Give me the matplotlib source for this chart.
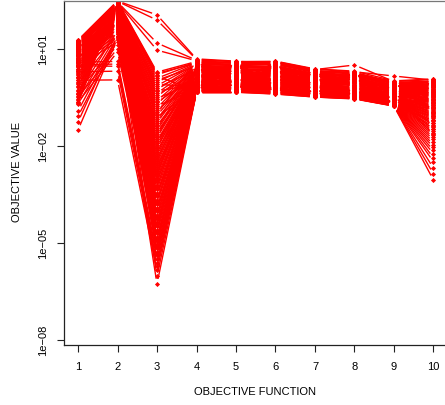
import numpy as np
import matplotlib
matplotlib.use('Agg')
import matplotlib.pyplot as plt
from matplotlib.collections import LineCollection

plt.rcParams['font.family'] = ['Liberation Sans', 'DejaVu Sans']

# log10 of the objective value, one list per objective, same run order in each
obj1 = [1.25, 1.22, 1.24, 1.20,
        1.26, 1.18, 1.23, 1.15, 1.21, 1.12, 1.19, 1.08, 1.16, 1.04,
        1.13, 1.00, 1.10, 0.96, 1.06, 0.92, 1.02, 0.88, 0.98, 0.84,
        0.94, 0.80, 0.90, 0.76, 0.86, 0.70, 0.82, 0.64, 0.78, 0.58,
        0.72, 0.52, 0.66, 0.45, 0.60, 0.38, 0.54, 0.30, 0.47, 0.22,
        -0.30, -0.40, -0.50, -0.58, -0.66, -0.72, -0.93, -1.09, -1.27, -1.52,
        0.58, 0.50, 0.47, 0.28, 0.02, 0.10, -0.10,
        -0.70, -0.64, -0.56, -0.47, -0.42, -0.36, -0.28, -0.20, -0.15, -0.08,
        -0.02, 0.04, 0.12, 0.18, 0.24, 0.31, 0.36, 0.43, 0.49, 0.55,
        0.61, 0.67, 0.73, 0.79, 0.85, 0.91, 0.97, 1.03, 1.09, 1.14,
        1.17, 1.11, 1.05, 0.99, 0.93, 0.81, 0.69, 0.57, 0.33, 0.11]
obj2 = [2.47, 2.46, 2.44, 2.42,
        2.47, 2.40, 2.45, 2.35, 2.30, 2.42, 2.25, 2.38, 2.20, 2.33,
        2.15, 2.28, 2.10, 2.47, 2.05, 2.22, 2.00, 2.18, 1.95, 2.12,
        1.90, 2.08, 1.85, 2.03, 1.80, 1.98, 1.75, 2.44, 1.70, 1.93,
        1.60, 1.88, 1.50, 1.83, 1.40, 1.78, 1.30, 1.72, 1.20, 1.65,
        1.10, 1.55, 1.00, 1.45, 0.90, 1.35, 1.35, 1.25, 1.40, 1.32,
        0.60, 0.52, 0.45, 0.30, 0.03, 1.85, 1.45,
        2.46, 2.43, 2.41, 2.39, 2.37, 2.34, 2.31, 2.29, 2.26, 2.24,
        2.21, 2.19, 2.16, 2.14, 2.11, 2.09, 2.06, 2.04, 2.01, 1.99,
        1.96, 1.94, 1.91, 1.89, 1.86, 1.84, 1.81, 1.79, 1.76, 1.74,
        1.71, 1.68, 1.66, 1.63, 1.61, 1.58, 1.56, 1.53, 1.51, 1.48]
obj3 = [2.04, 1.88, 1.17, 0.95,
        0.27, 0.19, 0.08, -0.04, -0.15, -0.27, -0.38, -0.49, -0.61, -0.72,
        -0.84, -0.95, -1.07, -1.18, -1.29, -1.41, -1.52, -1.64, -1.75, -1.86,
        -1.98, -2.09, -2.21, -2.32, -2.43, -2.55, -2.66, -2.78, -2.89, -3.00,
        -3.12, -3.23, -3.35, -3.46, -3.57, -3.69, -3.80, -3.92, -4.03, -4.14,
        -4.26, -4.37, -4.49, -4.60, -4.71, -4.83, -4.94, -5.06, -5.17, -5.28,
        -5.40, -5.51, -5.63, -5.74, -5.86, -6.04, -6.28,
        0.23, 0.14, 0.02, -0.10, -0.21, -0.32, -0.43, -0.55, -0.66, -0.78,
        -0.90, -1.01, -1.13, -1.24, -1.35, -1.47, -1.58, -1.70, -1.81, -1.92,
        -2.04, -2.15, -2.27, -2.38, -2.49, -2.61, -2.72, -2.84, -2.95, -3.06,
        -3.29, -3.52, -3.75, -3.97, -4.20, -4.43, -4.66, -4.88, -5.11, -5.34]
obj4 = [0.68, 0.66, 0.64, 0.62, 0.60, 0.58, 0.56, 0.54, 0.52, 0.50,
        0.48, 0.46, 0.44, 0.42, 0.40, 0.38, 0.36, 0.34, 0.33, 0.31,
        0.29, 0.27, 0.25, 0.23, 0.21, 0.19, 0.17, 0.15, 0.13, 0.11,
        0.09, 0.07, 0.05, 0.03, 0.01, -0.01, -0.03, -0.05, -0.07, -0.09,
        -0.11, -0.13, -0.15, -0.17, -0.19, -0.21, -0.23, -0.25, -0.26, -0.27,
        -0.28, -0.29, -0.30, -0.31, -0.32, -0.33, -0.33, -0.34, -0.34, -0.35, -0.35,
        0.55, -0.30, 0.45, -0.20, 0.35, -0.10, 0.25, 0.00, 0.15, -0.25,
        0.05, 0.60, -0.15, 0.50, -0.05, 0.40, 0.10, 0.30, -0.32, 0.20,
        0.12, -0.18, 0.42, -0.08, 0.32, -0.28, 0.22, 0.02, 0.52, -0.12,
        0.37, -0.02, 0.27, -0.22, 0.17, 0.07, 0.47, -0.34, 0.57, -0.16]
obj5 = [0.61, 0.59, 0.60, 0.56, 0.54, 0.55, 0.51, 0.49, 0.47, 0.48,
        0.44, 0.42, 0.40, 0.41, 0.37, 0.35, 0.33, 0.31, 0.32, 0.28,
        0.26, 0.24, 0.25, 0.21, 0.19, 0.17, 0.15, 0.16, 0.12, 0.10,
        0.08, 0.06, 0.07, 0.03, 0.01, -0.01, -0.03, -0.02, -0.06, -0.08,
        -0.10, -0.12, -0.11, -0.15, -0.17, -0.19, -0.20, -0.22, -0.24, -0.25,
        -0.27, -0.28, -0.29, -0.30, -0.31, -0.32, -0.33, -0.33, -0.34, -0.35, -0.35,
        0.30, 0.10, -0.20, 0.50, 0.00, 0.40, -0.30, 0.20, -0.10, 0.55,
        0.25, -0.25, 0.45, 0.05, 0.35, -0.15, 0.15, -0.05, 0.58, -0.33,
        0.28, 0.08, -0.22, 0.48, -0.02, 0.38, -0.28, 0.18, -0.12, 0.53,
        0.23, -0.27, 0.43, 0.03, 0.33, -0.17, 0.13, -0.07, 0.56, -0.31]
obj6 = [0.61, 0.60, 0.57, 0.58, 0.54, 0.52, 0.50, 0.51, 0.47, 0.45,
        0.43, 0.41, 0.42, 0.38, 0.36, 0.34, 0.32, 0.33, 0.29, 0.27,
        0.25, 0.23, 0.21, 0.22, 0.18, 0.16, 0.14, 0.12, 0.13, 0.09,
        0.07, 0.05, 0.03, 0.04, 0.00, -0.02, -0.04, -0.06, -0.05, -0.09,
        -0.11, -0.13, -0.15, -0.14, -0.18, -0.20, -0.22, -0.24, -0.23, -0.27,
        -0.29, -0.31, -0.32, -0.33, -0.34, -0.35, -0.36, -0.37, -0.38, -0.40, -0.41,
        -0.10, 0.20, 0.45, -0.30, 0.30, -0.20, 0.55, 0.05, 0.35, -0.38,
        0.15, 0.50, -0.05, 0.25, -0.25, 0.40, 0.00, 0.58, -0.15, 0.10,
        -0.12, 0.22, 0.47, -0.32, 0.32, -0.22, 0.52, 0.07, 0.37, -0.35,
        0.17, 0.48, -0.07, 0.27, -0.27, 0.42, 0.02, 0.56, -0.17, 0.12]
obj7 = [0.37, 0.35, 0.36, 0.32, 0.30, 0.28, 0.29, 0.25, 0.23, 0.21,
        0.19, 0.20, 0.16, 0.14, 0.12, 0.10, 0.11, 0.07, 0.05, 0.03,
        0.01, 0.02, -0.02, -0.04, -0.06, -0.08, -0.07, -0.11, -0.13, -0.15,
        -0.17, -0.16, -0.20, -0.22, -0.24, -0.26, -0.25, -0.29, -0.31, -0.33,
        -0.35, -0.34, -0.37, -0.38, -0.39, -0.40, -0.41, -0.42, -0.43, -0.44,
        -0.44, -0.45, -0.45, -0.46, -0.46, -0.47, -0.47, -0.48, -0.49, -0.50, -0.50,
        0.25, -0.40, 0.10, 0.33, -0.20, -0.05, -0.45, 0.18, -0.30, 0.28,
        0.00, -0.15, -0.42, 0.22, -0.35, 0.08, -0.25, 0.31, -0.10, -0.48,
        0.26, -0.38, 0.12, 0.34, -0.18, -0.03, -0.43, 0.17, -0.28, 0.27,
        0.02, -0.13, -0.41, 0.24, -0.33, 0.06, -0.23, 0.30, -0.08, -0.47]
obj8 = [0.30, 0.49, 0.28, 0.26, 0.24, 0.25, 0.21, 0.19, 0.17, 0.15,
        0.16, 0.12, 0.10, 0.08, 0.06, 0.04, 0.05, 0.01, -0.01, -0.03,
        -0.05, -0.04, -0.08, -0.10, -0.12, -0.14, -0.13, -0.17, -0.19, -0.21,
        -0.23, -0.22, -0.26, -0.28, -0.30, -0.31, -0.32, -0.33, -0.34, -0.36,
        -0.37, -0.38, -0.39, -0.40, -0.41, -0.42, -0.43, -0.44, -0.45, -0.46,
        -0.47, -0.48, -0.49, -0.50, -0.51, -0.52, -0.53, -0.54, -0.55, -0.55, -0.56,
        -0.20, 0.25, -0.45, 0.05, -0.30, 0.15, -0.52, -0.05, 0.28, -0.38,
        0.10, -0.25, 0.20, -0.48, 0.00, -0.35, 0.27, -0.15, -0.42, 0.12,
        -0.18, 0.23, -0.47, 0.03, -0.32, 0.13, -0.53, -0.07, 0.26, -0.40,
        0.08, -0.27, 0.18, -0.50, -0.02, -0.37, 0.24, -0.13, -0.44, 0.11]
obj9 = [0.00, -0.02, 0.15, -0.04, -0.06, -0.08, -0.10, -0.09, -0.13, -0.15,
        -0.17, -0.19, -0.18, -0.22, -0.24, -0.26, -0.28, -0.27, -0.31, -0.33,
        -0.35, -0.37, -0.36, -0.40, -0.42, -0.44, -0.43, -0.47, -0.49, -0.50,
        -0.52, -0.51, -0.54, -0.55, -0.56, -0.57, -0.58, -0.59, -0.60, -0.61,
        -0.62, -0.63, -0.64, -0.65, -0.66, -0.67, -0.68, -0.69, -0.70, -0.71,
        -0.72, -0.73, -0.74, -0.75, -0.75, -0.76, -0.76, -0.77, -0.77, -0.78, -0.78,
        -0.40, -0.10, -0.65, -0.25, -0.72, -0.05, -0.50, -0.30, -0.76, -0.15,
        -0.60, -0.35, -0.03, -0.68, -0.20, -0.45, -0.74, -0.12, -0.55, -0.28,
        -0.42, -0.08, -0.63, -0.23, -0.70, -0.06, -0.48, -0.32, -0.77, -0.17,
        -0.58, -0.37, -0.01, -0.66, -0.22, -0.47, -0.73, -0.11, -0.53, -0.26]
obj10 = [0.06, 0.04, 0.02, -0.01, -0.04, -0.07, -0.10, -0.13, -0.16, -0.19,
         -0.22, -0.25, -0.28, -0.31, -0.34, -0.37, -0.40, -0.43, -0.46, -0.49,
         -0.52, -0.55, -0.58, -0.61, -0.64, -0.67, -0.70, -0.73, -0.76, -0.79,
         -0.82, -0.85, -0.88, -0.92, -0.96, -1.00, -1.04, -1.08, -1.12, -1.16,
         -1.20, -1.25, -1.30, -1.36, -1.42, -1.48, -1.54, -1.60, -1.67, -1.74,
         -1.81, -1.89, -1.97, -2.05, -2.15, -2.25, -2.38, -2.50, -2.70, -2.88, -3.07,
         0.05, -0.30, 0.00, -0.60, -0.15, -0.90, -0.05, -0.45, -1.10, -0.20,
         -0.75, -0.10, -0.35, -1.30, -0.50, -0.02, -0.85, -0.25, -1.50, -0.65,
         -0.12, -0.40, -1.05, -0.08, -0.55, -0.95, -0.18, -0.70, -1.22, -0.03,
         -0.33, -1.40, -0.47, -0.80, -0.27, -1.65, -0.58, -0.14, -1.00, -0.38]

objectives = list(range(1, 11))
y_ticks = [1e1, 1e-2, 1e-5, 1e-8]
y_labels = ['1e+01', '1e\u221202', '1e\u221205', '1e\u221208']

runs = 10.0 ** np.column_stack([obj1, obj2, obj3, obj4, obj5, obj6, obj7, obj8, obj9, obj10])

W, H = 445, 406
fig = plt.figure(figsize=(W / 100, H / 100), dpi=100)
ax = fig.add_axes([63.8 / W, 1 - 345.7 / H, (447.7 - 63.8) / W, (345.7 - 2) / H])
ax.set_yscale('log')
ax.set_xlim(0.64, 10.36)
ax.set_ylim(10 ** -8.16, 10 ** 2.47)

# lines stop short of the points, like R's type="b"
gap = 5.2
segments = []
for run in runs:
    pts = ax.transData.transform(np.column_stack([objectives, run]))
    for a, b in zip(pts[:-1], pts[1:]):
        d = np.hypot(*(b - a))
        if d <= 2 * gap:
            continue
        u = (b - a) / d
        segments.append(ax.transData.inverted().transform([a + u * gap, b - u * gap]))
ax.add_collection(LineCollection(segments, colors='red', linewidths=1.0))

for run in runs:
    ax.plot(objectives, run, ls='none', marker='D', ms=2.6, color='red', mew=0)

ax.set_xticks(objectives)
ax.set_xticklabels([str(i) for i in objectives])
ax.set_yticks(y_ticks)
ax.set_yticklabels(y_labels, rotation=90, va='center')
ax.minorticks_off()
ax.tick_params(axis='both', length=5, width=0.8, labelsize=8, color='#222222')
ax.tick_params(axis='x', pad=7)
ax.tick_params(axis='y', pad=6)
for name, spine in ax.spines.items():
    spine.set_linewidth(0.9)
    spine.set_color('#222222')
ax.spines['top'].set_color('#777777')

fig.text(255 / W, 1 - 392 / H, 'OBJECTIVE FUNCTION', ha='center', va='center', fontsize=8)
fig.text(17.5 / W, 1 - 172 / H, 'OBJECTIVE VALUE', ha='center', va='center', rotation=90, fontsize=8)

fig.savefig('out.png', dpi=100)
